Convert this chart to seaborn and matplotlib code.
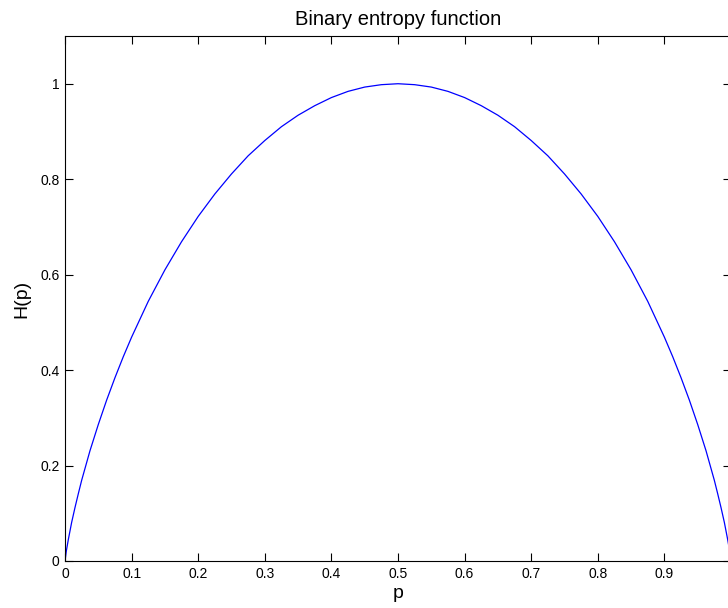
import numpy as np
import pandas as pd
import matplotlib.pyplot as plt
import seaborn as sns

# values
p_vals = [0.0, 0.002, 0.005, 0.01, 0.015, 0.02, 0.025, 0.0375, 0.05, 0.0625, 0.075, 0.0875,
          0.1, 0.125, 0.15, 0.175, 0.2, 0.225, 0.25, 0.275, 0.3, 0.325, 0.35, 0.375,
          0.4, 0.425, 0.45, 0.475, 0.5, 0.525, 0.55, 0.575, 0.6, 0.625, 0.65, 0.675,
          0.7, 0.725, 0.75, 0.775, 0.8, 0.825, 0.85, 0.875, 0.9, 0.9125, 0.925, 0.9375,
          0.95, 0.9625, 0.975, 0.98, 0.985, 0.99, 0.995, 0.998, 1.0]
h_vals = [0.0, 0.021, 0.045, 0.081, 0.112, 0.141, 0.169, 0.231, 0.286, 0.337, 0.384, 0.428,
          0.469, 0.544, 0.610, 0.669, 0.722, 0.769, 0.811, 0.849, 0.881, 0.910, 0.934, 0.954,
          0.971, 0.984, 0.993, 0.998, 1.0, 0.998, 0.993, 0.984, 0.971, 0.954, 0.934, 0.910,
          0.881, 0.849, 0.811, 0.769, 0.722, 0.669, 0.610, 0.544, 0.469, 0.428, 0.384, 0.337,
          0.286, 0.231, 0.169, 0.141, 0.112, 0.081, 0.045, 0.021, 0.0]
x_ticks = [0, 0.1, 0.2, 0.3, 0.4, 0.5, 0.6, 0.7, 0.8, 0.9, 1.0]
x_labels = ['0', '0.1', '0.2', '0.3', '0.4', '0.5', '0.6', '0.7', '0.8', '0.9', '']
y_ticks = [0, 0.2, 0.4, 0.6, 0.8, 1.0]
y_labels = ['0', '0.2', '0.4', '0.6', '0.8', '1']

df = pd.DataFrame({'p': p_vals, 'H': h_vals})

sns.set_style('ticks')
plt.rcParams['font.family'] = ['Liberation Sans', 'DejaVu Sans']
plt.rcParams['text.color'] = 'black'
plt.rcParams['axes.labelcolor'] = 'black'
plt.rcParams['xtick.color'] = 'black'
plt.rcParams['ytick.color'] = 'black'

fig = plt.figure(figsize=(7.28, 6.08), dpi=100)
ax = fig.add_axes([65 / 728, 47 / 608, 666 / 728, 525 / 608])

sns.lineplot(data=df, x='p', y='H', ax=ax, color='#0000ff', lw=0.9, sort=False)

ax.set_xlim(0, 1)
ax.set_ylim(0, 1.1)
ax.set_xticks(x_ticks)
ax.set_xticklabels(x_labels)
ax.set_yticks(y_ticks)
ax.set_yticklabels(y_labels)
ax.tick_params(direction='in', top=True, right=True, length=6, width=0.8,
               labelsize=10, colors='black', pad=4)
for s in ax.spines.values():
    s.set_visible(True)
    s.set_color('black')
    s.set_linewidth(0.8)

ax.set_xlabel('p', fontsize=14, labelpad=3)
ax.set_ylabel('H(p)', fontsize=14, labelpad=7)
ax.set_title('Binary entropy function', fontsize=14.5, pad=8, color='black')

plt.savefig('out.png', dpi=100)
